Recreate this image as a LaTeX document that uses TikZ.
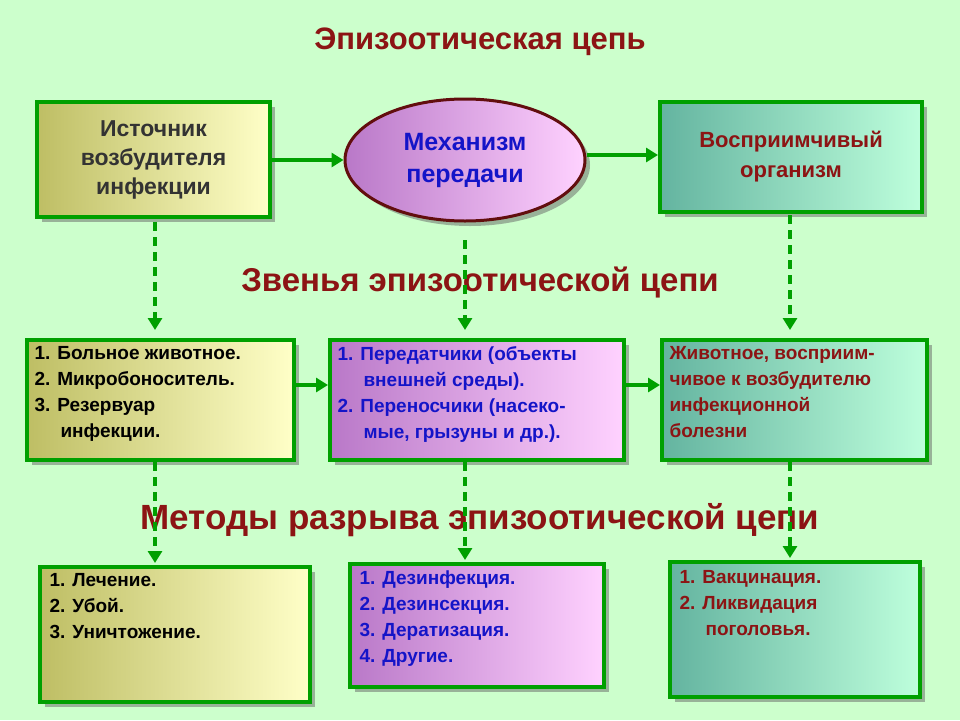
\documentclass[tikz,border=0pt]{standalone}
\usepackage{fontspec}
\setmainfont{Liberation Sans}
\usetikzlibrary{arrows.meta,shadows,shapes.geometric}
\definecolor{bg}{RGB}{204,255,204}
\definecolor{gr}{RGB}{0,160,0}
\definecolor{dred}{RGB}{140,20,20}
\definecolor{blu}{RGB}{20,20,200}
\definecolor{yl}{RGB}{190,190,100}
\definecolor{yr}{RGB}{255,255,200}
\definecolor{pl}{RGB}{185,120,200}
\definecolor{pr}{RGB}{255,210,255}
\definecolor{tl}{RGB}{100,180,160}
\definecolor{tr}{RGB}{190,255,220}
\tikzset{
 bx/.style={draw=gr,line width=4pt,drop shadow={shadow xshift=5pt,shadow yshift=-5pt,fill=black!60},anchor=north west,inner sep=0pt},
 yel/.style={left color=yl,right color=yr},
 pur/.style={left color=pl,right color=pr},
 tea/.style={left color=tl,right color=tr},
 sol/.style={draw=gr,line width=4pt,-{Triangle[length=12pt,width=14pt]}},
 dsh/.style={draw=gr,line width=4pt,dash pattern=on 9pt off 6pt,-{Triangle[length=12pt,width=14pt]}},
 ttl/.style={text=dred,font=\bfseries\fontsize{33}{38}\selectfont},
 txt/.style={font=\bfseries\fontsize{19}{26}\selectfont,align=left,anchor=north west}
}
\begin{document}
\begin{tikzpicture}[x=1pt,y=-1pt]
\fill[bg] (0,0) rectangle (960,720);
\useasboundingbox (0,0) rectangle (960,720);
\node[ttl,font=\bfseries\fontsize{31}{36}\selectfont] (t1) at (480,42) {Эпизоотическая цепь};
\node[bx,yel,minimum width=233pt,minimum height=115pt,align=center,font=\bfseries\fontsize{23}{29}\selectfont,text=black!80] (b1) at (35,100) {Источник\\возбудителя\\инфекции};
\node[draw=dred!70!black,line width=3pt,ellipse,pur,minimum width=240pt,minimum height=122pt,align=center,font=\bfseries\fontsize{25}{32}\selectfont,text=blu,drop shadow={shadow xshift=5pt,shadow yshift=-5pt,fill=black!60}] (b2) at (465,160) {Механизм\\передачи};
\node[bx,tea,minimum width=262pt,minimum height=110pt,align=center,font=\bfseries\fontsize{22}{30}\selectfont,text=dred] (b3) at (658,100) {Восприимчивый\\организм};
\draw[sol] (b1.east|-0,160) -- (b2.west|-0,160);
\draw[sol] (b2.east|-0,155) -- (b3.west|-0,155);
\node[ttl] (t2) at (480,283) {Звенья эпизоотической цепи};
\node[bx,yel,minimum width=267pt,minimum height=120pt] (m1) at (25,338) {};
\node[txt,text=black] at (31,343) {1. Больное животное.\\2. Микробоноситель.\\3. Резервуар\\\hspace*{26pt}инфекции.};
\node[bx,pur,minimum width=294pt,minimum height=120pt] (m2) at (328,338) {};
\node[txt,text=blu] at (334,343) {1. Передатчики (объекты\\\hspace*{26pt}внешней среды).\\2. Переносчики (насеко-\\\hspace*{26pt}мые, грызуны и др.).};
\node[bx,tea,minimum width=265pt,minimum height=120pt] (m3) at (660,338) {};
\node[txt,text=dred] at (666,343) {Животное, восприим-\\чивое к возбудителю\\инфекционной\\болезни};
\draw[sol] (m1.east|-0,385) -- (m2.west|-0,385);
\draw[sol] (m2.east|-0,385) -- (m3.west|-0,385);
\draw[dsh] (155,222) -- (155,330);
\draw[dsh] (465,240) -- (465,330);
\draw[dsh] (790,215) -- (790,330);
\node[ttl,font=\bfseries\fontsize{35}{40}\selectfont] (t3) at (480,520) {Методы разрыва эпизоотической цепи};
\node[bx,yel,minimum width=270pt,minimum height=135pt] (n1) at (38,565) {};
\node[txt,text=black] at (46,570) {1. Лечение.\\2. Убой.\\3. Уничтожение.};
\node[bx,pur,minimum width=254pt,minimum height=123pt] (n2) at (348,562) {};
\node[txt,text=blu] at (356,567) {1. Дезинфекция.\\2. Дезинсекция.\\3. Дератизация.\\4. Другие.};
\node[bx,tea,minimum width=250pt,minimum height=135pt] (n3) at (668,560) {};
\node[txt,text=dred] at (676,567) {1. Вакцинация.\\2. Ликвидация\\\hspace*{26pt}поголовья.};
\draw[dsh] (155,462) -- (155,563);
\draw[dsh] (465,462) -- (465,560);
\draw[dsh] (790,462) -- (790,558);
\end{tikzpicture}
\end{document}
